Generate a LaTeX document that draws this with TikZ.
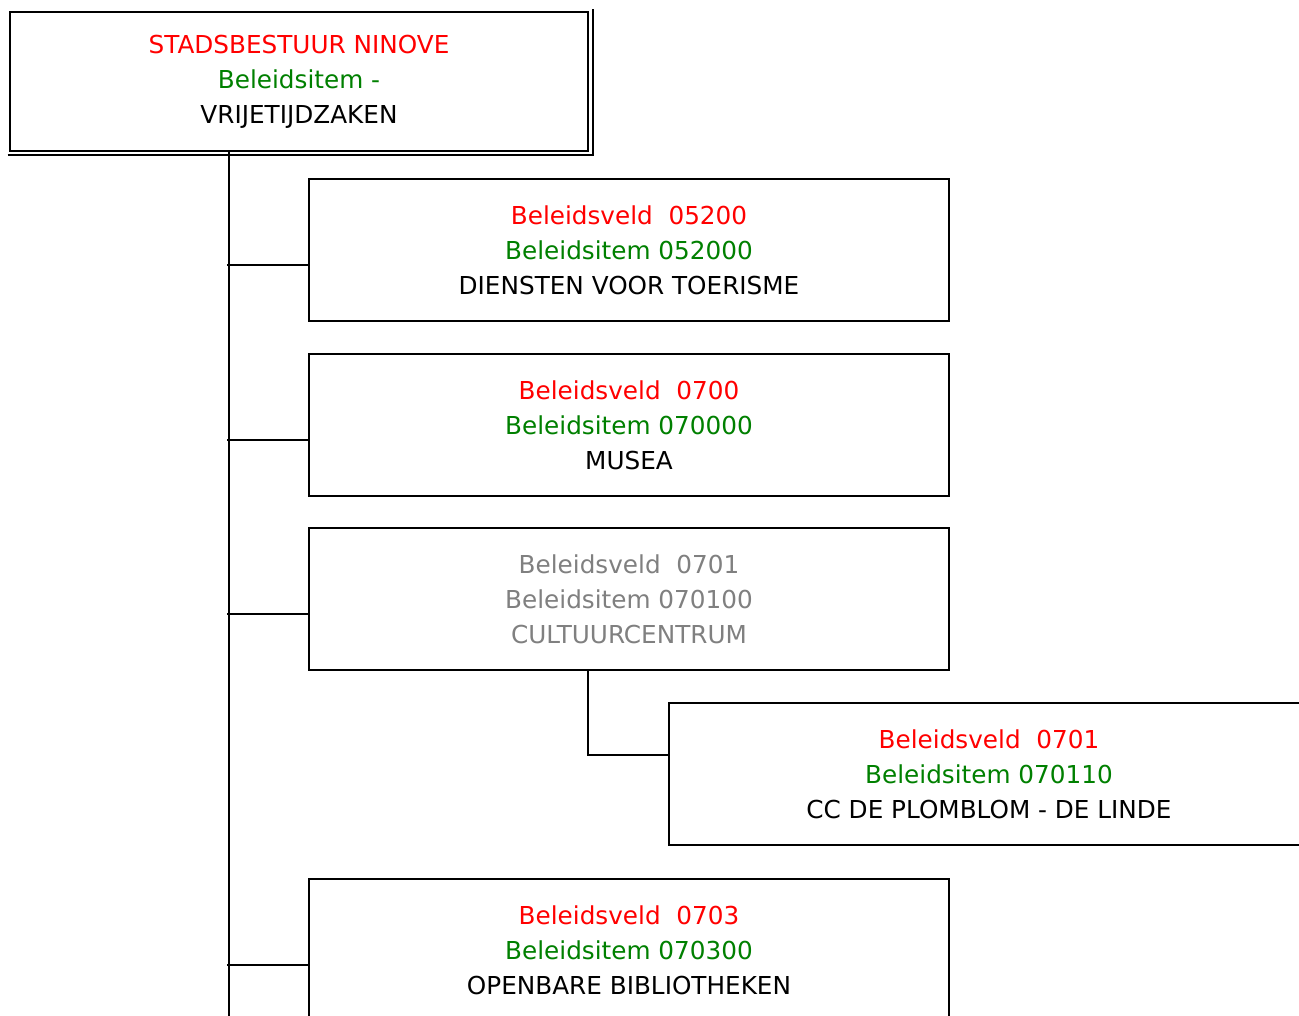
\documentclass[tikz,border=0pt]{standalone}
\usepackage{fontspec}
\setmainfont{DejaVu Sans}
\definecolor{veldrood}{RGB}{255,0,0}
\definecolor{itemgroen}{RGB}{0,128,0}
\definecolor{uitgrijs}{RGB}{128,128,128}

\begin{document}
\begin{tikzpicture}[x=1pt, y=-1pt,
  blok/.style={draw, line width=2pt, fill=white, inner sep=0pt,
    minimum width=640pt, minimum height=142pt, align=center,
    font=\fontsize{24.7}{35}\selectfont},
  lijn/.style={line width=2pt}]

\newcommand\Regels[3]{\textcolor{veldrood}{#1}\\\textcolor{itemgroen}{#2}\\#3}

\useasboundingbox (0,0) rectangle (1299,1016);
\clip (0,0) rectangle (1299,1016);

%% top of the tree
\node[blok, minimum width=578pt, minimum height=139pt] (top) at (299,82)
  {\Regels{STADSBESTUUR NINOVE}{Beleidsitem -}{VRIJETIJDZAKEN}};
\draw[lijn] ([xshift=-1.5pt,yshift=-3pt]top.south west)
  -| ([xshift=3.5pt,yshift=2pt]top.north east);

\coordinate (stam) at (229,152);
\coordinate (stameind) at (229,1016);
\draw[lijn] (stam) -- (stameind);

%% beleidsvelden
\node[blok] (toerisme) at (629,250)
  {\Regels{Beleidsveld~~05200}{Beleidsitem 052000}{DIENSTEN VOOR TOERISME}};
\node[blok] (musea) at (629,425)
  {\Regels{Beleidsveld~~0700}{Beleidsitem 070000}{MUSEA}};
\node[blok, text=uitgrijs] (cultuur) at (629,599)
  {Beleidsveld~~0701\\Beleidsitem 070100\\CULTUURCENTRUM};
\node[blok] (plomblom) at (989,774)
  {\Regels{Beleidsveld~~0701}{Beleidsitem 070110}{CC DE PLOMBLOM - DE LINDE}};
\node[blok] (bib) at (629,950)
  {\Regels{Beleidsveld~~0703}{Beleidsitem 070300}{OPENBARE BIBLIOTHEKEN}};

\foreach \b in {toerisme, musea, cultuur, bib}
  \draw[lijn] ([yshift=-87pt]\b.north west) -- ++(-81,0);
\draw[lijn] ([xshift=280pt]cultuur.south west) |- ([yshift=-53pt]plomblom.north west);

\end{tikzpicture}
\end{document}
